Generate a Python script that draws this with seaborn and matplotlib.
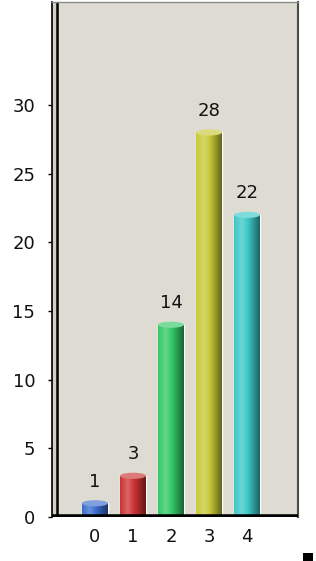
import numpy as np
import pandas as pd
import matplotlib
matplotlib.use("Agg")
import matplotlib.pyplot as plt
import matplotlib.colors as mcolors
from matplotlib.patches import Ellipse, Rectangle
import seaborn as sns

categories = ["0", "1", "2", "3", "4"]
values = [1, 3, 14, 28, 22]
bar_colors = ["#3a6ccc", "#cc3333", "#33c866", "#c8c838", "#3cc8c8"]
ytick_values = [0, 5, 10, 15, 20, 25, 30]

sns.set_theme(style="white")
plt.rcParams["font.family"] = ["DejaVu Sans"]

df = pd.DataFrame({"cat": categories, "val": values})

fig = plt.figure(figsize=(3.16, 5.61), dpi=100)
W, H = 316, 561
ax = fig.add_axes([52 / W, 1 - 517 / H, 246 / W, 515 / H])
bg = "#dedcd2"
ax.set_facecolor(bg)

sns.barplot(data=df, x="cat", y="val", hue="cat", palette=bar_colors,
            legend=False, width=0.68, ax=ax, saturation=1)

xl = (-1.13, 5.34)
yl = (0, 37.5)
fs = 13

# cylinder shading
for patch, col in zip(ax.patches, bar_colors):
    x0 = patch.get_x()
    w = patch.get_width()
    h = patch.get_height()
    base = np.array(mcolors.to_rgb(col))
    t = np.linspace(0, 1, 64)
    prof = np.where(t < 0.3, 1.0 + 0.25 * (t / 0.3), 1.25 - 0.75 * ((t - 0.3) / 0.7))
    img = np.zeros((1, 64, 3))
    for k in range(3):
        c = base[k] * prof
        c = np.where(prof > 1, base[k] + (1 - base[k]) * (prof - 1), c)
        img[0, :, k] = np.clip(c, 0, 1)
    im = ax.imshow(img, extent=(x0, x0 + w, 0, h), aspect="auto",
                   interpolation="bicubic", zorder=3)
    im.set_clip_path(patch)
    light = base + (1 - base) * 0.35
    cap = Ellipse((x0 + w / 2, h), w, 0.45, facecolor=light, edgecolor="none", zorder=4)
    ax.add_patch(cap)
    ax.annotate(f"{int(h)}", (x0 + w / 2, h), xytext=(0, 9), textcoords="offset points",
                ha="center", va="bottom", fontsize=fs, color="#111111", zorder=5)

# side wall strip
ax.axvspan(xl[0], -1.0, color="#d2d0c6", zorder=0.5)
ax.axvline(-1.0, color="black", lw=1.8, zorder=2)
# floor
ax.axhline(0, color="black", lw=4, zorder=6)

ax.set_xlim(*xl)
ax.set_ylim(*yl)
ax.set_yticks(ytick_values)
ax.set_yticklabels([str(v) for v in ytick_values])
ax.tick_params(axis="y", length=3, width=1, color="black", pad=9, labelsize=fs,
               left=True, labelcolor="#111111")
ax.tick_params(axis="x", length=0, pad=8, labelsize=fs, labelcolor="#111111")
ax.set_xlabel("")
ax.set_ylabel("")

ax.spines["left"].set_color("black")
ax.spines["left"].set_linewidth(1.2)
ax.spines["top"].set_color("#8a8a84")
ax.spines["top"].set_linewidth(1.0)
ax.spines["right"].set_color("#4a4a46")
ax.spines["right"].set_linewidth(1.5)
ax.spines["bottom"].set_visible(False)

fig.patches.append(Rectangle((303 / W, 0), 10 / W, 8 / H, transform=fig.transFigure,
                             facecolor="black", edgecolor="none"))

fig.savefig("out.png", dpi=100, facecolor="white")
